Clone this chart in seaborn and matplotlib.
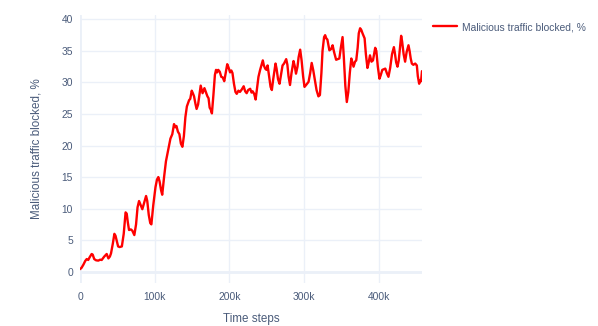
import matplotlib
matplotlib.use("Agg")
import matplotlib.pyplot as plt
import seaborn as sns
import pandas as pd

# Training progress: time steps (thousands) and share of malicious traffic blocked (%)
steps_k = [
    0, 2, 4.5, 7, 9, 11, 13, 15.6, 17, 19, 21.5, 24.5, 27, 29, 32.5, 35.7, 38, 40,
    41.5, 44, 46, 47.5, 49, 51, 53, 56, 58.5, 61, 62.5, 64, 65.6, 68, 70, 72.7, 75,
    77, 79, 81, 83.4, 85.5, 88.4, 90, 92, 94, 95.5, 98, 101, 103, 104.8, 106.5,
    108.5, 110, 112.5, 115, 118, 121, 123.5, 125.8, 127.5, 129, 131, 133, 135, 137,
    139, 141, 143, 146, 147.5, 149.5, 151, 152.6, 154.5, 156, 158, 161.5, 163, 164,
    166.5, 168, 170.5, 172, 173.5, 175, 176.5, 178.5, 180.5, 182, 183.5, 185, 187,
    189, 191, 193, 195, 197, 199, 200.8, 202.5, 204, 206, 208, 209.7, 212, 214,
    216.5, 219, 221, 223, 225, 227.7, 229.5, 231, 233, 235, 237, 238.8, 241, 244.6,
    246, 247.8, 249.5, 251, 253, 255, 256.7, 258.5, 261.6, 263, 265, 267, 269, 271,
    273, 275.9, 277.5, 279, 281, 283, 285.7, 287.5, 289, 291, 292.5, 294.6, 296.5,
    298.5, 300.4, 302.5, 305.8, 308, 310, 312, 314.7, 316.5, 319, 321, 323, 324.5,
    326.6, 328, 329.5, 331, 333.7, 336, 338, 340, 342.7, 345, 347, 349, 351.3, 353,
    355, 357, 359, 361, 363, 364.5, 366, 368, 369.6, 371.5, 373, 374.8, 376.5, 378,
    380.8, 382.5, 384.6, 386, 388, 390, 392, 395, 396.5, 398.5, 400.7, 402.5, 404.5,
    406.5, 408.5, 410.5, 412.7, 415, 417.5, 420, 421.5, 423, 424.8, 426.5, 428.5,
    429.7, 431, 433, 435, 437, 439.5, 441, 442.5, 444, 446, 448.5, 450.7, 452,
    453.8, 455, 456.3, 457.6,
]
blocked_pct = [
    0.4, 0.6, 1.1, 1.7, 2.0, 1.85, 2.3, 2.8, 2.7, 2.0, 1.8, 1.75, 1.9, 1.85, 2.4,
    2.8, 2.1, 2.4, 2.9, 4.5, 6.0, 5.7, 5.0, 4.0, 3.9, 4.0, 6.0, 9.4, 9.2, 7.8, 6.6,
    6.7, 6.5, 5.8, 7.5, 10.2, 11.2, 10.6, 9.9, 10.8, 12.0, 11.2, 9.0, 7.7, 7.5, 10.5,
    13.4, 14.6, 15.0, 14.3, 12.9, 12.2, 15.0, 17.5, 19.3, 21.1, 21.8, 23.4, 22.9,
    23.1, 22.2, 21.8, 20.3, 19.8, 21.5, 24.5, 26.2, 27.2, 27.4, 28.7, 28.3, 27.8,
    26.6, 25.8, 26.5, 29.5, 28.8, 28.3, 29.1, 28.6, 27.8, 27.5, 26.0, 25.7, 25.1,
    28.0, 31.2, 32.0, 31.6, 32.0, 31.7, 30.9, 30.8, 30.2, 31.6, 32.9, 32.3, 31.6,
    31.9, 31.5, 29.8, 28.5, 28.2, 28.7, 28.5, 28.9, 29.4, 28.6, 28.3, 28.8, 29.0,
    28.4, 28.6, 28.2, 27.3, 29.2, 30.9, 32.0, 33.5, 32.7, 32.2, 32.0, 32.7, 31.0,
    29.3, 28.8, 30.5, 33.0, 32.2, 30.5, 29.8, 31.2, 32.7, 33.0, 33.7, 32.8, 31.0,
    29.6, 31.5, 33.4, 32.5, 31.4, 32.5, 34.0, 35.2, 33.5, 31.0, 29.3, 29.6, 30.1,
    31.5, 33.1, 32.0, 30.1, 28.8, 27.8, 28.0, 31.5, 35.0, 37.2, 37.5, 37.0, 36.8,
    35.1, 35.3, 35.9, 34.8, 33.6, 33.7, 33.8, 35.5, 37.2, 34.0, 29.5, 26.9, 28.5,
    31.5, 33.8, 33.2, 32.5, 33.3, 33.5, 35.5, 37.8, 38.6, 38.3, 37.8, 37.0, 34.5,
    32.3, 33.0, 34.3, 33.3, 33.5, 35.5, 35.0, 32.5, 30.6, 31.2, 32.0, 32.1, 32.2,
    31.5, 30.9, 32.3, 34.5, 35.6, 34.5, 33.2, 32.5, 33.5, 36.0, 37.4, 36.5, 34.5,
    33.3, 34.8, 35.9, 35.0, 33.8, 33.0, 32.8, 33.0, 32.7, 31.0, 29.8, 30.3, 30.2,
    31.8,
]

x_ticks = [0, 100_000, 200_000, 300_000, 400_000]
x_tick_labels = ["0", "100k", "200k", "300k", "400k"]
y_ticks = [0, 5, 10, 15, 20, 25, 30, 35, 40]

series_name = "Malicious traffic blocked, %"
df = pd.DataFrame({
    "Time steps": [s * 1000 for s in steps_k],
    series_name: blocked_pct,
})

sns.set_theme(style="white")
plt.rcParams["font.family"] = ["Liberation Sans", "DejaVu Sans"]

text_color = "#4a5b7a"
grid_color = "#ebf0f8"
tick_color = "#8895ab"

W, H = 598, 326
fig = plt.figure(figsize=(W / 100, H / 100), dpi=100)
left, right, top, bottom = 80, 422, 15, 283
ax_h = bottom - top
ax_w = right - left
ax = fig.add_axes([left / W, 1 - bottom / H, ax_w / W, ax_h / H])

sns.lineplot(data=df, x="Time steps", y=series_name, ax=ax,
             color="#ff0000", linewidth=1.7, label=series_name, zorder=3)

ax.set_xlim(df["Time steps"].min(), df["Time steps"].max())
ax.set_ylim(-1.8, 40.7)
ax.set_xticks(x_ticks)
ax.set_xticklabels(x_tick_labels)
ax.set_yticks(y_ticks)

ax.grid(True, color=grid_color, linewidth=1.0, zorder=0)
ax.axhline(0, color=grid_color, linewidth=2.0, zorder=1)
ax.axvline(0, color=grid_color, linewidth=2.0, zorder=1)
for s in ax.spines.values():
    s.set_visible(False)

ax.tick_params(axis="both", which="both", direction="out", length=3.6, width=0.8,
               color=tick_color, labelcolor=text_color, labelsize=7.4)
ax.tick_params(axis="y", pad=1.5)
ax.tick_params(axis="x", pad=3)

ax.set_xlabel("Time steps", color=text_color, fontsize=8.4)
ax.set_ylabel(series_name, color=text_color, fontsize=8.4)
ax.xaxis.set_label_coords(0.5, (bottom - 319) / ax_h)
ax.xaxis.label.set_va("center")
ax.yaxis.set_label_coords((37 - left) / ax_w, 0.5)
ax.yaxis.label.set_va("center")

leg = ax.legend(loc="center left", bbox_to_anchor=(1 + (433 - right) / ax_w,
                                                    (bottom - 27) / ax_h),
                frameon=False, fontsize=7.4, handlelength=2.3, handletextpad=0.5,
                borderaxespad=0, borderpad=0)
for t in leg.get_texts():
    t.set_color(text_color)
for line in leg.get_lines():
    line.set_linewidth(1.7)

fig.savefig("out.png", dpi=100, facecolor="white")
